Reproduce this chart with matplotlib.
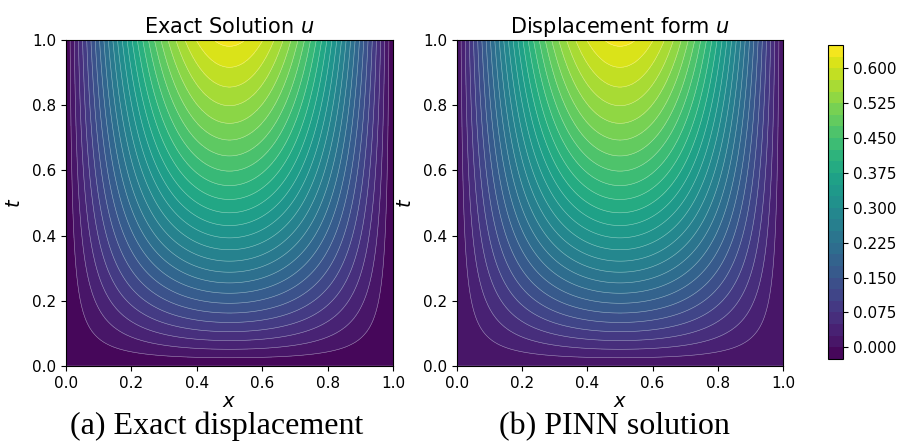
import numpy as np
import matplotlib
matplotlib.use("Agg")
import matplotlib.pyplot as plt

# domain and solution parameters
x = np.linspace(0.0, 1.0, 301)
t = np.linspace(0.0, 1.0, 301)
amp = 1.0          # u(x,t) = amp * sin(pi x) * (1 - exp(-t))

# contour levels (left: exact, right: PINN with slightly negative min)
levels_exact = np.arange(0.0, 0.6501, 0.025)
levels_pinn = np.arange(-0.025, 0.6501, 0.025)
cbar_ticks = [0.000, 0.075, 0.150, 0.225, 0.300, 0.375, 0.450, 0.525, 0.600]

titles = ["Exact Solution $u$", "Displacement form $u$"]
captions = ["(a) Exact displacement", "(b) PINN solution"]

X, T = np.meshgrid(x, t)
U = amp * np.sin(np.pi * X) * (1.0 - np.exp(-T))

fig = plt.figure(figsize=(9.01, 4.42), dpi=100)
W, H = 901.0, 442.0
ax1 = fig.add_axes([66 / W, 1 - 366 / H, 327 / W, 326 / H])
ax2 = fig.add_axes([457 / W, 1 - 366 / H, 326 / W, 326 / H])
cax = fig.add_axes([828 / W, 1 - 359 / H, 15 / W, 314 / H])

for ax, lev, title in zip([ax1, ax2], [levels_exact, levels_pinn], titles):
    cf = ax.contourf(X, T, U, levels=lev, cmap="viridis")
    ax.contour(X, T, U, levels=lev, colors="white", linewidths=0.4, alpha=0.5)
    ax.set_title(title, fontsize=15, pad=5)
    ax.set_xlabel("$x$", fontsize=14, labelpad=1)
    ax.set_ylabel("$t$", fontsize=14, labelpad=6)
    ax.set_xticks([0, 0.2, 0.4, 0.6, 0.8, 1.0])
    ax.set_yticks([0, 0.2, 0.4, 0.6, 0.8, 1.0])
    ax.tick_params(labelsize=11)

cb = fig.colorbar(cf, cax=cax, ticks=cbar_ticks, format="%.3f")
cb.ax.tick_params(labelsize=11)

fig.text(217 / W, 1 - 434 / H, captions[0], ha="center", va="baseline",
         fontsize=23, family="Liberation Serif")
fig.text(614 / W, 1 - 434 / H, captions[1], ha="center", va="baseline",
         fontsize=23, family="Liberation Serif")

fig.savefig("out.png", dpi=100)
